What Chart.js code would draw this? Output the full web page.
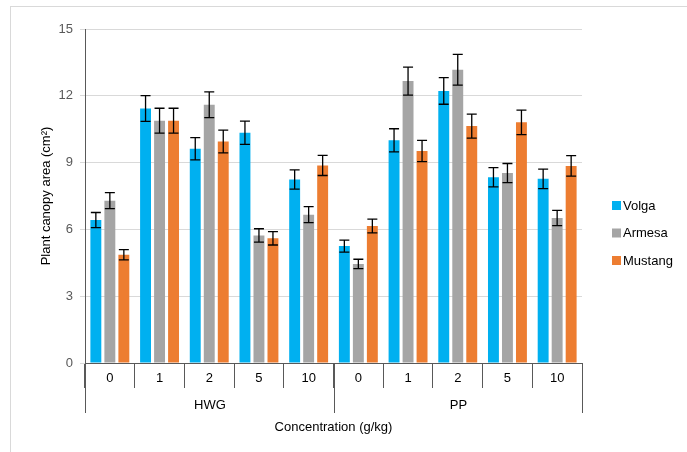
<!DOCTYPE html>
<html>
<head>
<meta charset="utf-8">
<script src="https://cdn.jsdelivr.net/npm/chart.js@4.4.1/dist/chart.umd.min.js"></script>
<style>
    html, body { margin: 0; padding: 0; background: #fff; overflow: hidden; }
    #wrap { position: relative; width: 687px; height: 452px; }
    #frame { position: absolute; left: 10px; top: 6px; width: 720px; height: 480px; border: 1px solid #d9d9d9; }
    #chart { position: absolute; left: 0; top: 0; }
</style>
</head>
<body>
<div id="wrap">
    <div id="frame"></div>
    <canvas id="chart" width="687" height="452"></canvas>
</div>
<script>
// Категории по оси X
const concentrations = ['0', '1', '2', '5', '10', '0', '1', '2', '5', '10'];
const groupNames = ['HWG', 'PP'];
const groupSizes = [5, 5];

// Значения серий
const volga   = [6.42, 11.43, 9.62, 10.34, 8.24, 5.25, 10.0, 12.22, 8.34, 8.27];
const armesa  = [7.29, 10.88, 11.6, 5.73, 6.66, 4.45, 12.66, 13.17, 8.53, 6.51];
const mustang = [4.86, 10.88, 9.95, 5.6, 8.87, 6.15, 9.52, 10.64, 10.81, 8.85];

// Погрешности
const volgaErr   = [0.34, 0.58, 0.5, 0.52, 0.43, 0.27, 0.52, 0.6, 0.43, 0.44];
const armesaErr  = [0.36, 0.56, 0.58, 0.3, 0.36, 0.21, 0.63, 0.69, 0.43, 0.34];
const mustangErr = [0.23, 0.56, 0.51, 0.3, 0.45, 0.31, 0.48, 0.54, 0.55, 0.46];

// Ось Y
const yTicks = [0, 3, 6, 9, 12, 15];

const FONT = "'Liberation Sans', Arial, sans-serif";
const TEXT = '#595959';

// Планки погрешностей
const errorBars = {
    id: 'errorBars',
    afterDatasetsDraw(chart) {
        const ctx = chart.ctx;
        const y = chart.scales.y;
        ctx.save();
        ctx.strokeStyle = '#000';
        ctx.lineWidth = 1.3;
        chart.data.datasets.forEach((ds, di) => {
            const meta = chart.getDatasetMeta(di);
            meta.data.forEach((bar, i) => {
                const v = ds.data[i], e = ds.errors[i];
                const top = y.getPixelForValue(v + e);
                const bot = y.getPixelForValue(v - e);
                const x = bar.x;
                ctx.beginPath();
                ctx.moveTo(x, top); ctx.lineTo(x, bot);
                ctx.moveTo(x - 5, top); ctx.lineTo(x + 5, top);
                ctx.moveTo(x - 5, bot); ctx.lineTo(x + 5, bot);
                ctx.stroke();
            });
        });
        ctx.restore();
    }
};

// Второй уровень подписей оси X (HWG / PP)
const groupAxis = {
    id: 'groupAxis',
    afterDraw(chart) {
        const ctx = chart.ctx;
        const x = chart.scales.x;
        const area = chart.chartArea;
        const n = concentrations.length;
        const cw = (x.getPixelForValue(n - 1) - x.getPixelForValue(0)) / (n - 1);
        ctx.save();
        ctx.strokeStyle = TEXT;
        ctx.lineWidth = 1;
        ctx.fillStyle = '#000';
        ctx.font = '13px ' + FONT;
        ctx.textAlign = 'center';
        ctx.textBaseline = 'middle';
        let start = 0;
        groupNames.forEach((name, g) => {
            const end = start + groupSizes[g] - 1;
            const x0 = Math.round(x.getPixelForValue(start) - cw / 2) + 0.5;
            const x1 = Math.round(x.getPixelForValue(end) + cw / 2) + 0.5;
            ctx.beginPath();
            ctx.moveTo(x0, area.bottom); ctx.lineTo(x0, area.bottom + 50);
            ctx.moveTo(x1, area.bottom); ctx.lineTo(x1, area.bottom + 50);
            ctx.stroke();
            ctx.fillText(name, (x0 + x1) / 2, area.bottom + 42);
            start = end + 1;
        });
        ctx.restore();
    }
};

// Легенда справа
const sideLegend = {
    id: 'sideLegend',
    afterDraw(chart) {
        const ctx = chart.ctx;
        ctx.save();
        ctx.font = '13px ' + FONT;
        ctx.textBaseline = 'middle';
        chart.data.datasets.forEach((ds, i) => {
            const cy = 206 + i * 27.5;
            ctx.fillStyle = ds.backgroundColor;
            ctx.fillRect(612, cy - 5, 9, 9);
            ctx.fillStyle = '#000';
            ctx.fillText(ds.label, 623, cy);
        });
        ctx.restore();
    }
};

new Chart(document.getElementById('chart'), {
    type: 'bar',
    data: {
        labels: concentrations,
        datasets: [
            { label: 'Volga', data: volga, errors: volgaErr, backgroundColor: '#00b0f0' },
            { label: 'Armesa', data: armesa, errors: armesaErr, backgroundColor: '#a5a5a5' },
            { label: 'Mustang', data: mustang, errors: mustangErr, backgroundColor: '#ed7d31' }
        ]
    },
    options: {
        responsive: false,
        animation: false,
        devicePixelRatio: 1,
        categoryPercentage: 0.845,
        barPercentage: 0.78,
        layout: { padding: { left: 10, right: 105, top: 29, bottom: 0 } },
        plugins: {
            legend: { display: false },
            tooltip: { enabled: false }
        },
        scales: {
            x: {
                offset: true,
                grid: { offset: true, drawOnChartArea: false, tickLength: 25, color: TEXT },
                border: { color: TEXT },
                ticks: { padding: -17, color: '#000', font: { family: FONT, size: 13 } },
                title: {
                    display: true, text: 'Concentration (g/kg)', color: '#000',
                    font: { family: FONT, size: 13 }, padding: { top: 0, bottom: 17 }
                },
                afterFit(s) { s.height = 89; }
            },
            y: {
                min: 0, max: 15,
                afterBuildTicks(s) { s.ticks = yTicks.map(v => ({ value: v })); },
                grid: { color: '#d9d9d9', tickLength: 5 },
                border: { color: TEXT },
                ticks: { padding: 7, color: TEXT, font: { family: FONT, size: 13 } },
                title: {
                    display: true, text: 'Plant canopy area (cm²)', color: '#000',
                    font: { family: FONT, size: 13 }, padding: { top: 29, bottom: 0 }
                },
                afterFit(s) { s.width = 75; }
            }
        }
    },
    plugins: [errorBars, groupAxis, sideLegend]
});
</script>
</body>
</html>
